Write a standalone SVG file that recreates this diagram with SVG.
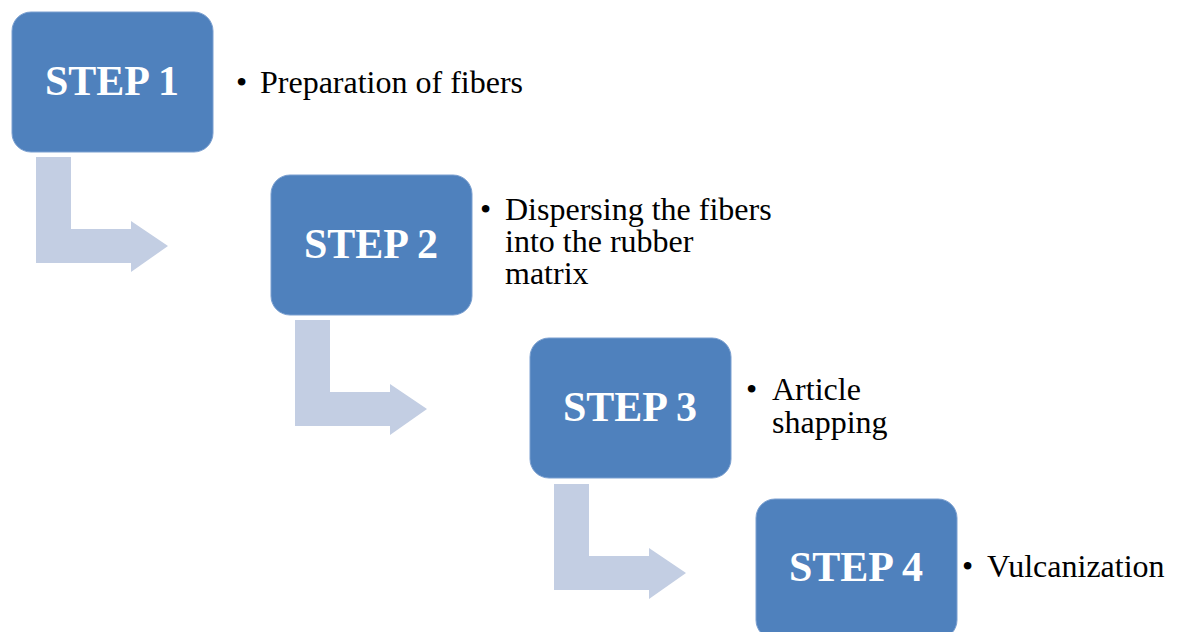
<svg xmlns="http://www.w3.org/2000/svg" width="1180" height="632" viewBox="0 0 1180 632">
<style>
.box{fill:#4F81BD;stroke:#7A9FD0;stroke-width:1}
.arr{fill:#C3CEE3}
.step{font-family:"Liberation Serif",serif;font-weight:bold;font-size:42px;fill:#fff;text-anchor:middle}
.txt{font-family:"Liberation Serif",serif;font-size:32px;fill:#000}
</style>
<rect width="1180" height="632" fill="#fff"/>
<g id="connectors">
<path class="arr" d="M36 157H71V229H131V221L168 246L131 272V263H36Z"/>
<path class="arr" d="M295 320H330V392H390V384L427 409L390 435V426H295Z"/>
<path class="arr" d="M554 484H589V556H649V548L686 573L649 599V590H554Z"/>
</g>
<g id="step1">
<rect class="box" x="12" y="12" width="201" height="140" rx="19"/>
<text class="step" x="112" y="95">STEP 1</text>
<text class="txt" x="236" y="93">•</text>
<text class="txt" x="260" y="93">Preparation of fibers</text>
</g>
<g id="step2">
<rect class="box" x="271" y="175" width="201" height="140" rx="19"/>
<text class="step" x="371" y="258">STEP 2</text>
<text class="txt" x="480" y="220">•</text>
<text class="txt" x="505" y="220">Dispersing the fibers</text>
<text class="txt" x="505" y="252">into the rubber</text>
<text class="txt" x="505" y="284">matrix</text>
</g>
<g id="step3">
<rect class="box" x="530" y="338" width="201" height="140" rx="19"/>
<text class="step" x="630" y="421">STEP 3</text>
<text class="txt" x="746" y="400">•</text>
<text class="txt" x="772" y="400">Article</text>
<text class="txt" x="772" y="433">shapping</text>
</g>
<g id="step4">
<rect class="box" x="756" y="499" width="201" height="140" rx="19"/>
<text class="step" x="856" y="581">STEP 4</text>
<text class="txt" x="962" y="577">•</text>
<text class="txt" x="987" y="577">Vulcanization</text>
</g>
</svg>
